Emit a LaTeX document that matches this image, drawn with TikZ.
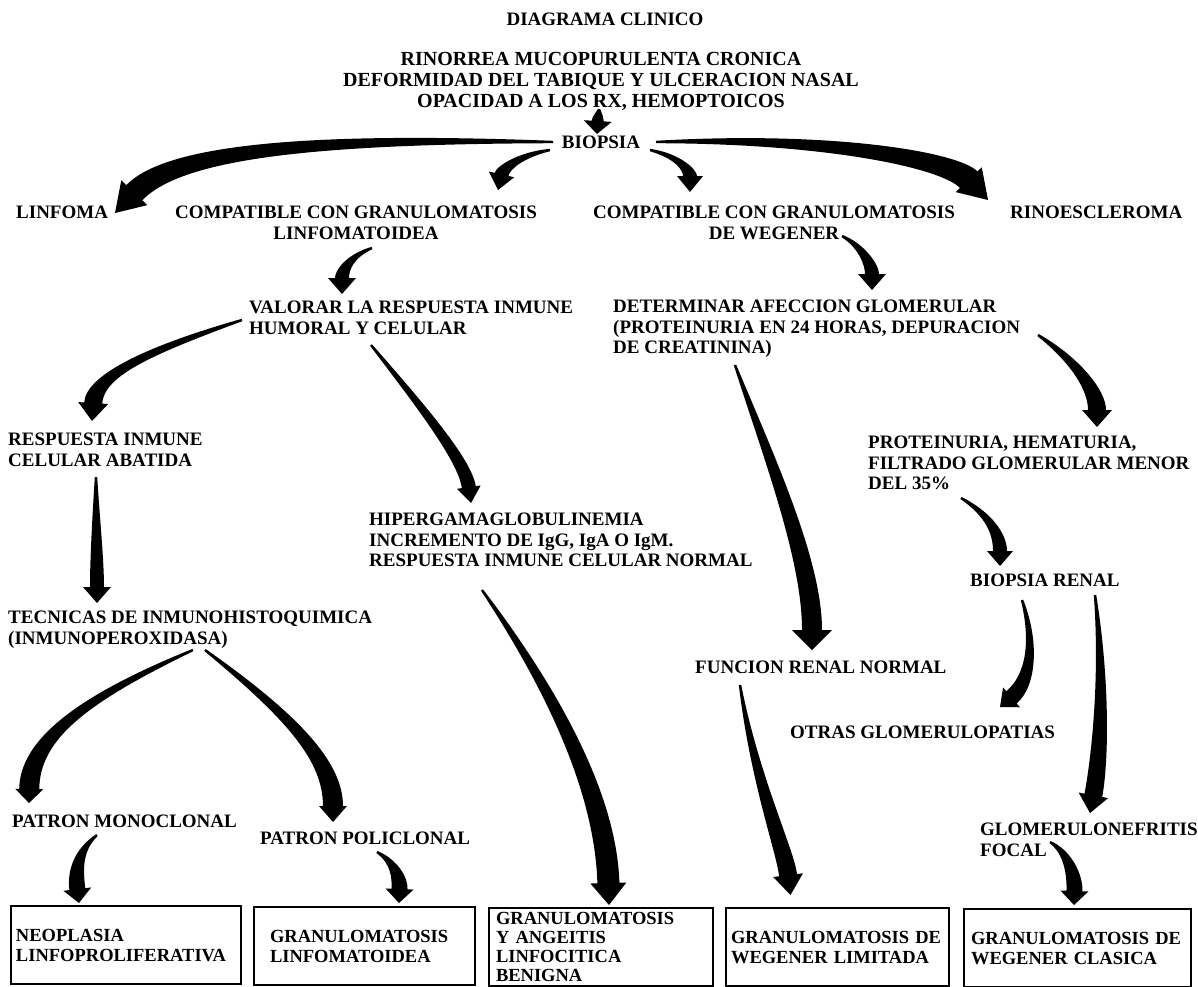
\documentclass[tikz,border=0pt]{standalone}
\usepackage{fontspec}
\setmainfont{Liberation Serif}
\usetikzlibrary{calc}
\newcommand\fnA{\fontsize{19}{20.5}\selectfont\bfseries}
\newcommand\fnT{\fontsize{20}{21}\selectfont\bfseries}
\newcommand\fnB{\fontsize{18.5}{20}\selectfont\bfseries}
% tapered arrow: start, c1, c2, tip, half body width, half head width, head length
\newcommand\tarr[7]{%
  \path ($(#4)!#7!(#3)$) coordinate (tB);
  \path ($(tB)!#5!90:(#4)$) coordinate (tL);
  \path ($(tB)!#5!-90:(#4)$) coordinate (tR);
  \path ($(tB)!#6!90:(#4)$) coordinate (hL);
  \path ($(tB)!#6!-90:(#4)$) coordinate (hR);
  \path ($(#2)!0.55*#5!90:(#3)$) coordinate (cL);
  \path ($(#2)!0.55*#5!-90:(#3)$) coordinate (cR);
  \path ($(#1)!1.2pt!90:(#2)$) coordinate (sL);
  \path ($(#1)!1.2pt!-90:(#2)$) coordinate (sR);
  \fill[black] (sL) .. controls (cL) and ($(#3)+(tL)-(tB)$) .. (tL) -- (hL) -- (#4) -- (hR) -- (tR)
     .. controls ($(#3)+(tR)-(tB)$) and (cR) .. (sR) -- cycle;
}
\tikzset{
  lbl/.style={inner sep=0pt, align=left, anchor=north west, font=\fnA},
  clbl/.style={inner sep=0pt, align=center, anchor=north, font=\fnA},
  boxst/.style={draw, line width=2pt, inner ysep=0pt, anchor=north west,
     minimum height=78, align=left, font=\fnB},
}
\begin{document}
\begin{tikzpicture}[x=1pt,y=-1pt]
\useasboundingbox[fill=white] (0,0) rectangle (1198,986);

% texts
\node[clbl] (title) at (605,13) {DIAGRAMA CLINICO};
\node[clbl, font=\fnT] (sympt) at (601,52) {RINORREA MUCOPURULENTA CRONICA\\DEFORMIDAD DEL TABIQUE Y ULCERACION NASAL\\OPACIDAD A LOS RX, HEMOPTOICOS};
\node[clbl] (biop) at (601,136) {BIOPSIA};
\node[lbl] (linf) at (16,206) {LINFOMA};
\node[clbl] (cgl) at (356,206) {COMPATIBLE CON GRANULOMATOSIS\\LINFOMATOIDEA};
\node[clbl] (cgw) at (774,206) {COMPATIBLE CON GRANULOMATOSIS\\DE WEGENER};
\node[lbl] (rino) at (1010,206) {RINOESCLEROMA};
\node[lbl] (valor) at (249,301) {VALORAR LA RESPUESTA INMUNE\\HUMORAL Y CELULAR};
\node[lbl] (deter) at (613,300) {DETERMINAR AFECCION GLOMERULAR\\(PROTEINURIA EN 24 HORAS, DEPURACION\\DE CREATININA)};
\node[lbl] (resp) at (8,433) {RESPUESTA INMUNE\\CELULAR ABATIDA};
\node[lbl] (prot) at (868,436) {PROTEINURIA, HEMATURIA,\\FILTRADO GLOMERULAR MENOR\\DEL 35\%};
\node[lbl] (hiper) at (369,513) {HIPERGAMAGLOBULINEMIA\\INCREMENTO DE IgG, IgA O IgM.\\RESPUESTA INMUNE CELULAR NORMAL};
\node[lbl] (brenal) at (970,574) {BIOPSIA RENAL};
\node[lbl] (tecn) at (8,611) {TECNICAS DE INMUNOHISTOQUIMICA\\(INMUNOPEROXIDASA)};
\node[lbl] (func) at (695,661) {FUNCION RENAL NORMAL};
\node[lbl] (otras) at (790,726) {OTRAS GLOMERULOPATIAS};
\node[lbl] (mono) at (12,815) {PATRON MONOCLONAL};
\node[lbl] (poli) at (260,832) {PATRON POLICLONAL};
\node[lbl] (glom) at (980,823) {GLOMERULONEFRITIS\\FOCAL};

% boxes
\node[boxst, text width=220, inner xsep=5] (box1) at (10,905) {NEOPLASIA\\LINFOPROLIFERATIVA};
\node[boxst, text width=189, inner xsep=16] (box2) at (253,906) {GRANULOMATOSIS\\LINFOMATOIDEA};
\node[boxst, text width=210, inner xsep=7, font=\fontsize{18.5}{19}\selectfont\bfseries] (box3) at (488,907) {GRANULOMATOSIS\\Y ANGEITIS\\LINFOCITICA\\BENIGNA};
\node[boxst, text width=213, inner xsep=5] (box4) at (725,907) {GRANULOMATOSIS DE\\WEGENER LIMITADA};
\node[boxst, text width=213, inner xsep=7] (box5) at (963,908) {GRANULOMATOSIS DE\\WEGENER CLASICA};

% arrows
\tarr{$(sympt.north)+(-2,57)$}{599,114}{598,117}{$(biop.north)+(-4,-2)$}{6pt}{14pt}{13pt}
\tarr{$(biop.north)+(-48,6)$}{320,138}{175,150}{$(linf.north west)+(99,7)$}{11pt}{18pt}{28pt}
\tarr{$(biop.north)+(-51,14)$}{520,155}{503,168}{$(cgl.north)+(142,-16)$}{7pt}{13pt}{16pt}
\tarr{$(biop.north)+(49,14)$}{678,156}{690,170}{$(cgw.north)+(-84,-14)$}{7pt}{13pt}{16pt}
\tarr{$(biop.north)+(55,6)$}{830,137}{950,160}{$(rino.north west)+(-22,-6)$}{12pt}{18pt}{28pt}
\tarr{$(cgl.north)+(16,42)$}{350,256}{342,270}{$(valor.north west)+(93,-7)$}{7pt}{14pt}{16pt}
\tarr{$(cgw.north)+(68,30)$}{862,246}{872,265}{$(deter.north west)+(259,-10)$}{7pt}{14pt}{16pt}
\tarr{$(valor.north west)+(-7,19)$}{150,350}{95,375}{$(resp.north west)+(84,-12)$}{9pt}{15pt}{18pt}
\tarr{$(valor.north west)+(122,44)$}{420,405}{465,460}{$(hiper.north west)+(102,-10)$}{7pt}{12pt}{16pt}
\tarr{$(deter.north west)+(425,35)$}{1075,360}{1097,390}{$(prot.north west)+(229,-9)$}{9pt}{15pt}{17pt}
\tarr{$(deter.north west)+(122,65)$}{770,460}{812,560}{$(func.north west)+(117,-11)$}{10pt}{20pt}{20pt}
\tarr{$(resp.north west)+(88,44)$}{96,520}{97,560}{$(tecn.north west)+(89,-8)$}{7pt}{14pt}{16pt}
\tarr{$(prot.north west)+(93,62)$}{990,515}{1000,535}{$(brenal.north west)+(30,-8)$}{7pt}{13pt}{15pt}
\tarr{$(tecn.north west)+(185,39)$}{80,700}{30,740}{$(mono.north west)+(17,-12)$}{10pt}{14pt}{14pt}
\tarr{$(tecn.north west)+(197,39)$}{290,715}{333,760}{$(poli.north west)+(73,-10)$}{10pt}{14pt}{16pt}
\tarr{$(hiper.north west)+(113,77)$}{560,700}{606,800}{$(box3.north)+(8,-2)$}{11pt}{18pt}{22pt}
\tarr{$(brenal.north west)+(52,26)$}{1035,640}{1032,680}{$(otras.north west)+(210,-19)$}{8pt}{13pt}{15pt}
\tarr{$(brenal.north west)+(125,21)$}{1105,680}{1100,760}{$(glom.north west)+(110,-10)$}{9pt}{15pt}{18pt}
\tarr{$(func.north west)+(45,24)$}{755,780}{785,850}{$(box4.north)+(-47,-12)$}{9pt}{15pt}{20pt}
\tarr{$(mono.north west)+(85,20)$}{78,850}{75,870}{$(box1.north)+(-47,-2)$}{8pt}{14pt}{14pt}
\tarr{$(poli.north west)+(117,20)$}{395,862}{400,878}{$(box2.north)+(34.5,-3)$}{8pt}{14pt}{14pt}
\tarr{$(glom.north west)+(70,19)$}{1068,852}{1075,875}{$(box5.north)+(-3.5,-3)$}{8pt}{14pt}{14pt}
\end{tikzpicture}
\end{document}
